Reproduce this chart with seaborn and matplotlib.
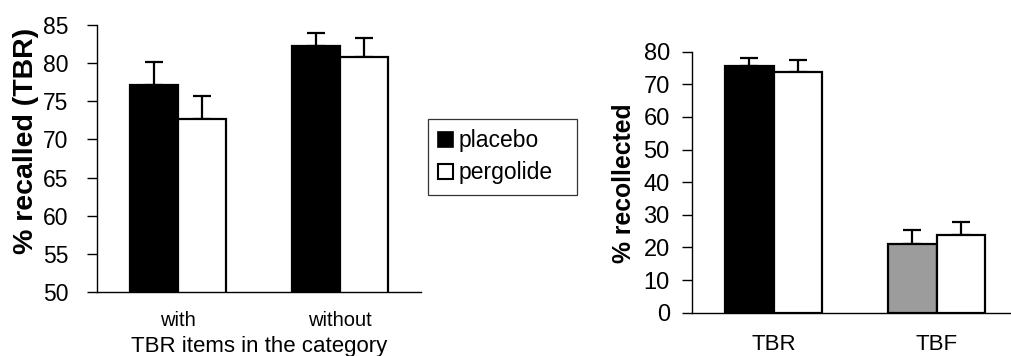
import matplotlib
matplotlib.use("Agg")
import matplotlib.pyplot as plt
from matplotlib.patches import Patch
from matplotlib.ticker import FixedLocator
import numpy as np
import pandas as pd
import seaborn as sns

# Recall of TBR items, split by whether TBR items were in the category
recall_cats = ["with", "without"]
recall_placebo = [77.1, 82.2]
recall_placebo_sem = [3.1, 1.7]
recall_pergolide = [72.7, 80.8]
recall_pergolide_sem = [3.0, 2.5]

# Recollection of TBR vs TBF items
recol_cats = ["TBR", "TBF"]
recol_placebo = [75.5, 21.0]
recol_placebo_sem = [2.7, 4.4]
recol_pergolide = [73.9, 23.9]
recol_pergolide_sem = [3.5, 3.8]

groups = ["placebo", "pergolide"]

sns.set_theme(style="white")
plt.rcParams["font.family"] = ["Liberation Sans", "DejaVu Sans"]

W, H = 1012, 356
fig = plt.figure(figsize=(W / 100, H / 100), dpi=100)


def px_axes(x0, x1, ytop, ybot):
    return fig.add_axes([x0 / W, 1 - ybot / H, (x1 - x0) / W, (ybot - ytop) / H])


def make_frame(cats, placebo, pergolide):
    return pd.DataFrame({
        "cat": cats * 2,
        "group": [groups[0]] * len(cats) + [groups[1]] * len(cats),
        "value": list(placebo) + list(pergolide),
    })


def draw_panel(ax, cats, placebo, p_sem, pergolide, g_sem):
    df = make_frame(cats, placebo, pergolide)
    sns.barplot(data=df, x="cat", y="value", hue="group", hue_order=groups,
                palette=["black", "white"], width=0.59, edgecolor="black",
                linewidth=1.6, saturation=1, legend=False, ax=ax, zorder=2)
    sems = [p_sem, g_sem]
    for cont, sem in zip(ax.containers, sems):
        xs = [b.get_x() + b.get_width() / 2 for b in cont]
        ys = [b.get_height() for b in cont]
        ax.errorbar(xs, ys, yerr=[np.zeros(len(sem)), sem], fmt="none",
                    ecolor="black", elinewidth=1.6, capsize=6.8,
                    capthick=1.6, zorder=1)
    ax.set_xlim(-0.5, len(cats) - 0.5)
    for s in ["top", "right"]:
        ax.spines[s].set_visible(False)
    for s in ["left", "bottom"]:
        ax.spines[s].set_color("black")
        ax.spines[s].set_linewidth(1.0)
    ax.xaxis.set_minor_locator(FixedLocator(np.arange(-0.5, len(cats), 1.0)))
    ax.tick_params(axis="x", which="major", length=0, colors="black")
    ax.tick_params(axis="x", which="minor", direction="inout", length=9,
                   width=1.0, color="black")
    ax.tick_params(axis="y", direction="out", length=7.5, width=1.0,
                   color="black", left=True, labelcolor="black")


# Left panel
axL = px_axes(97, 421, 25, 292)
draw_panel(axL, recall_cats, recall_placebo, recall_placebo_sem,
           recall_pergolide, recall_pergolide_sem)
axL.set_ylim(50, 85)
axL.set_yticks(np.arange(50, 86, 5))
axL.tick_params(axis="y", labelsize=16.5, pad=13)
axL.tick_params(axis="x", which="major", labelsize=14.5, pad=14)
axL.set_xlabel("TBR items in the category", fontsize=16, color="black")
axL.xaxis.set_label_coords(0.5, -0.165)
axL.set_ylabel("% recalled (TBR)", fontsize=20.5, fontweight="bold",
               color="black")
axL.yaxis.set_label_coords(-0.18, 0.566)

# Right panel
axR = px_axes(692, 1018, 51.7, 312.7)
draw_panel(axR, recol_cats, recol_placebo, recol_placebo_sem,
           recol_pergolide, recol_pergolide_sem)
# TBF placebo bar drawn in grey
axR.containers[0][1].set_facecolor("#9c9c9c")
axR.set_ylim(0, 80)
axR.set_yticks(np.arange(0, 81, 10))
axR.tick_params(axis="y", labelsize=17, pad=8.5)
axR.tick_params(axis="x", which="major", labelsize=16, pad=15)
axR.set_xlabel("")
axR.set_ylabel("% recollected", fontsize=17.8, fontweight="bold",
               color="black")
axR.yaxis.set_label_coords(-0.172, 0.497)

# Shared legend, frame stretched to a fixed width
handles = [Patch(facecolor="black", edgecolor="black", linewidth=1.2),
           Patch(facecolor="white", edgecolor="black", linewidth=1.5)]
leg = fig.legend(handles, groups, loc="upper left",
                 bbox_to_anchor=(428 / W, 1 - 197 / H, 149 / W, 78 / H),
                 mode="expand", fontsize=16.5,
                 frameon=True, fancybox=False, handlelength=0.65,
                 handleheight=0.65, handletextpad=0.25, borderpad=0.45,
                 labelspacing=0.4, borderaxespad=0)
leg.get_frame().set_edgecolor("black")
leg.get_frame().set_linewidth(0.9)
for t in leg.get_texts():
    t.set_color("black")

fig.savefig("out.png", dpi=100, facecolor="white")
